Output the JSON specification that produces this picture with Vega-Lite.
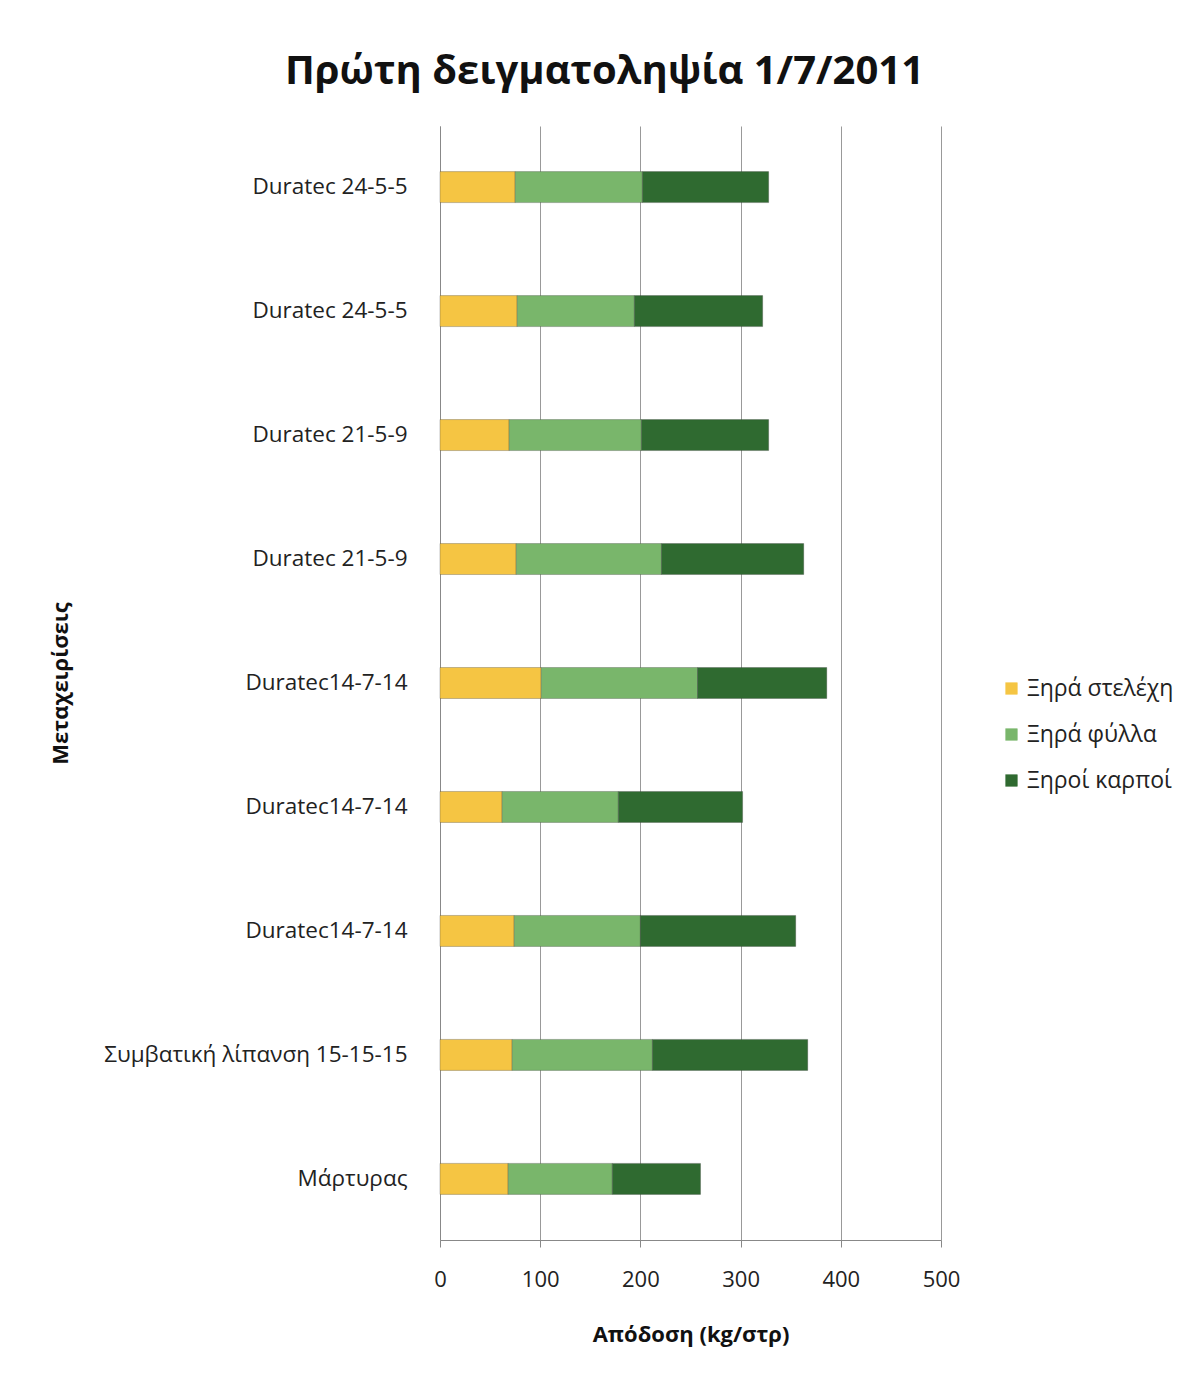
{
  "$schema": "https://vega.github.io/schema/vega-lite/v6.json",
  "width": 501,
  "height": 1114,
  "autosize": "none",
  "padding": {"left": 440, "top": 126, "right": 249, "bottom": 134},
  "background": "white",
  "config": {"font": "Open Sans", "view": {"stroke": null}},
  "title": {
    "text": "Πρώτη δειγματοληψία 1/7/2011",
    "fontSize": 40,
    "fontWeight": "bold",
    "font": "Open Sans",
    "color": "#111111",
    "dx": -86,
    "offset": 34
  },
  "data": {
    "values": [
      {"row": 1, "treatment": "Duratec 24-5-5", "part": "Ξηρά στελέχη", "ord": 1, "value": 75},
      {"row": 1, "treatment": "Duratec 24-5-5", "part": "Ξηρά φύλλα", "ord": 2, "value": 127},
      {"row": 1, "treatment": "Duratec 24-5-5", "part": "Ξηροί καρποί", "ord": 3, "value": 126},
      {"row": 2, "treatment": "Duratec 24-5-5", "part": "Ξηρά στελέχη", "ord": 1, "value": 77},
      {"row": 2, "treatment": "Duratec 24-5-5", "part": "Ξηρά φύλλα", "ord": 2, "value": 117},
      {"row": 2, "treatment": "Duratec 24-5-5", "part": "Ξηροί καρποί", "ord": 3, "value": 128},
      {"row": 3, "treatment": "Duratec 21-5-9", "part": "Ξηρά στελέχη", "ord": 1, "value": 69},
      {"row": 3, "treatment": "Duratec 21-5-9", "part": "Ξηρά φύλλα", "ord": 2, "value": 132},
      {"row": 3, "treatment": "Duratec 21-5-9", "part": "Ξηροί καρποί", "ord": 3, "value": 127},
      {"row": 4, "treatment": "Duratec 21-5-9", "part": "Ξηρά στελέχη", "ord": 1, "value": 76},
      {"row": 4, "treatment": "Duratec 21-5-9", "part": "Ξηρά φύλλα", "ord": 2, "value": 145},
      {"row": 4, "treatment": "Duratec 21-5-9", "part": "Ξηροί καρποί", "ord": 3, "value": 142},
      {"row": 5, "treatment": "Duratec14-7-14", "part": "Ξηρά στελέχη", "ord": 1, "value": 101},
      {"row": 5, "treatment": "Duratec14-7-14", "part": "Ξηρά φύλλα", "ord": 2, "value": 156},
      {"row": 5, "treatment": "Duratec14-7-14", "part": "Ξηροί καρποί", "ord": 3, "value": 129},
      {"row": 6, "treatment": "Duratec14-7-14", "part": "Ξηρά στελέχη", "ord": 1, "value": 62},
      {"row": 6, "treatment": "Duratec14-7-14", "part": "Ξηρά φύλλα", "ord": 2, "value": 116},
      {"row": 6, "treatment": "Duratec14-7-14", "part": "Ξηροί καρποί", "ord": 3, "value": 124},
      {"row": 7, "treatment": "Duratec14-7-14", "part": "Ξηρά στελέχη", "ord": 1, "value": 74},
      {"row": 7, "treatment": "Duratec14-7-14", "part": "Ξηρά φύλλα", "ord": 2, "value": 126},
      {"row": 7, "treatment": "Duratec14-7-14", "part": "Ξηροί καρποί", "ord": 3, "value": 155},
      {"row": 8, "treatment": "Συμβατική λίπανση 15-15-15", "part": "Ξηρά στελέχη", "ord": 1, "value": 72},
      {"row": 8, "treatment": "Συμβατική λίπανση 15-15-15", "part": "Ξηρά φύλλα", "ord": 2, "value": 140},
      {"row": 8, "treatment": "Συμβατική λίπανση 15-15-15", "part": "Ξηροί καρποί", "ord": 3, "value": 155},
      {"row": 9, "treatment": "Μάρτυρας", "part": "Ξηρά στελέχη", "ord": 1, "value": 68},
      {"row": 9, "treatment": "Μάρτυρας", "part": "Ξηρά φύλλα", "ord": 2, "value": 104},
      {"row": 9, "treatment": "Μάρτυρας", "part": "Ξηροί καρποί", "ord": 3, "value": 88}
    ]
  },
  "mark": {"type": "bar", "stroke": "#3a3a3a", "strokeOpacity": 0.3, "strokeWidth": 1},
  "encoding": {
    "y": {
      "field": "row",
      "type": "ordinal",
      "sort": "ascending",
      "scale": {"paddingInner": 0.75, "paddingOuter": 0.368},
      "axis": {
        "title": "Μεταχειρίσεις",
        "titleFontSize": 22,
        "titleFontWeight": "bold",
        "titleColor": "#111111",
        "titleX": -368,
        "labelExpr": "['Duratec 24-5-5','Duratec 24-5-5','Duratec 21-5-9','Duratec 21-5-9','Duratec14-7-14','Duratec14-7-14','Duratec14-7-14','Συμβατική λίπανση 15-15-15','Μάρτυρας'][datum.value - 1]",
        "labelFontSize": 22.5,
        "labelLimit": 0,
        "labelColor": "#222222",
        "labelPadding": 33,
        "ticks": false,
        "domainColor": "#888888",
        "grid": false
      }
    },
    "x": {
      "field": "value",
      "type": "quantitative",
      "stack": "zero",
      "scale": {"domain": [0, 500], "nice": false},
      "axis": {
        "title": "Απόδοση (kg/στρ)",
        "titleFontSize": 22,
        "titleFontWeight": "bold",
        "titleColor": "#111111",
        "titlePadding": 34,
        "values": [0, 100, 200, 300, 400, 500],
        "labelFontSize": 22,
        "labelFlush": false,
        "labelColor": "#222222",
        "labelPadding": 22,
        "tickSize": 7,
        "tickColor": "#888888",
        "domainColor": "#888888",
        "gridColor": "#999999",
        "gridWidth": 1
      }
    },
    "color": {
      "field": "part",
      "type": "nominal",
      "scale": {
        "domain": ["Ξηρά στελέχη", "Ξηρά φύλλα", "Ξηροί καρποί"],
        "range": ["#F5C543", "#79B66B", "#2F6A30"]
      },
      "legend": {
        "title": null,
        "orient": "none",
        "legendX": 560,
        "legendY": 551,
        "symbolType": "square",
        "symbolSize": 150,
        "symbolStrokeWidth": 0,
        "labelFontSize": 23,
        "labelColor": "#222222",
        "rowPadding": 22,
        "labelOffset": 4
      }
    },
    "order": {"field": "ord", "type": "quantitative"}
  }
}
